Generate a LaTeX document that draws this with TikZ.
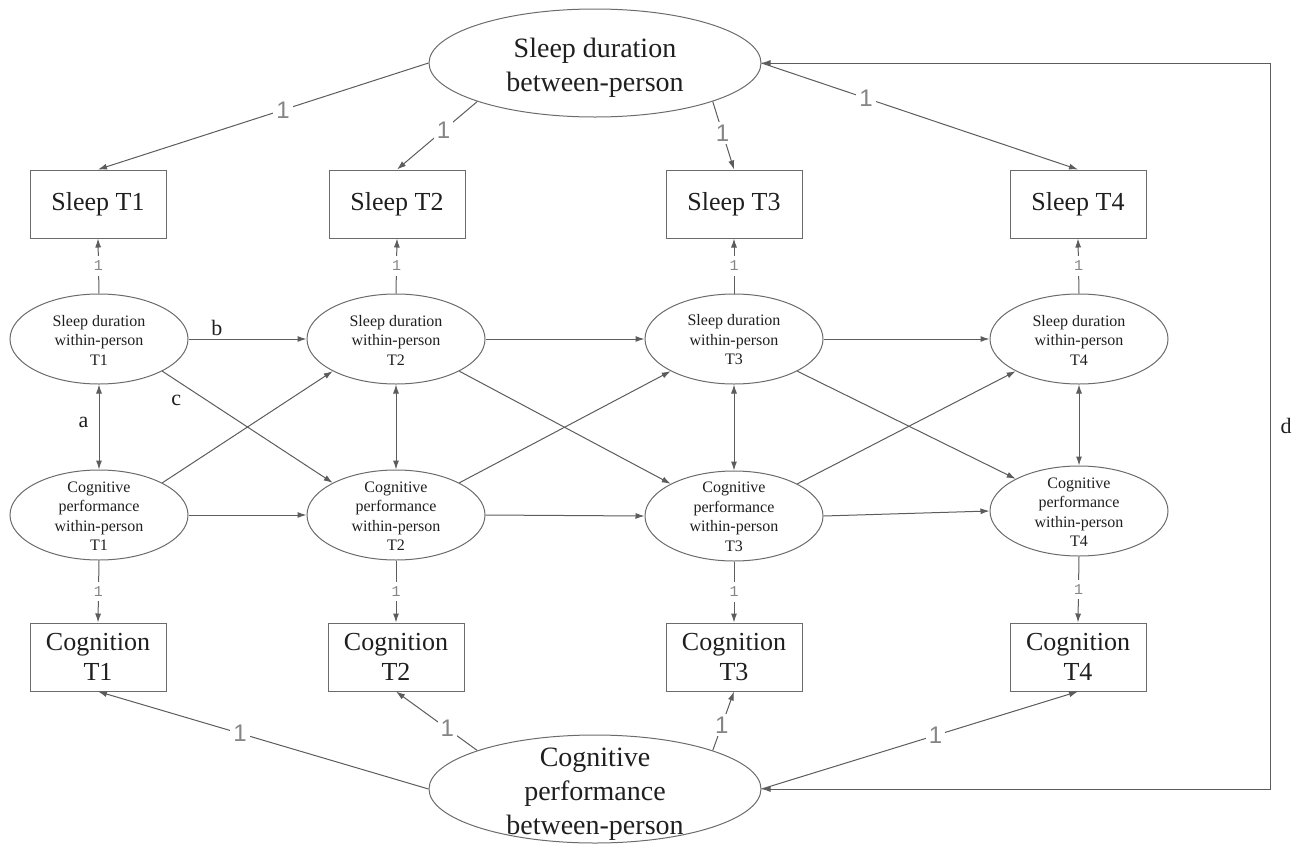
\documentclass[tikz,border=0pt]{standalone}
\usepackage{fontspec}
\setmainfont{Liberation Serif}
\newfontfamily\lsans{Liberation Sans}
\newfontfamily\lmono{Liberation Mono}
\usetikzlibrary{shapes.geometric,arrows.meta}
\definecolor{lncol}{gray}{0.36}
\definecolor{shpcol}{gray}{0.42}
\definecolor{numcol}{gray}{0.52}
\definecolor{txtcol}{gray}{0.12}
\begin{document}
\begin{tikzpicture}[x=1pt,y=-1pt,
  bigell/.style={ellipse,draw=shpcol,line width=1pt,minimum width=332pt,minimum height=108pt,inner sep=0pt},
  bigtxt/.style={align=center,inner sep=0pt,text=txtcol,font=\fontsize{28}{34}\selectfont},
  smell/.style={ellipse,draw=shpcol,line width=1pt,minimum width=178pt,minimum height=90pt,inner sep=0pt},
  smtxt/.style={align=center,inner sep=0pt,text=txtcol,font=\fontsize{16}{19.5}\selectfont},
  obsbox/.style={rectangle,draw=shpcol,line width=1pt,minimum width=136pt,minimum height=68pt,inner sep=0pt,align=center,text=txtcol,font=\fontsize{26}{30}\selectfont},
  conn/.style={draw=lncol,line width=1pt,-{Latex[length=9pt,width=6pt]}},
  dconn/.style={draw=lncol,line width=1pt,{Latex[length=9pt,width=6pt]}-{Latex[length=9pt,width=6pt]}},
  bignum/.style={fill=white,inner sep=3pt,text=numcol,font=\lsans\fontsize{24}{24}\selectfont},
  smnum/.style={fill=white,inner sep=5pt,text=numcol,font=\lmono\fontsize{15}{15}\selectfont},
  letter/.style={text=txtcol,inner sep=2pt,font=\fontsize{22}{22}\selectfont}
]
\useasboundingbox (0,0) rectangle (1302,844);

% between-person latents
\node[bigell] (topE) at (595,63) {};
\node[bigtxt] (topT) at (595,68) {Sleep duration\\between-person};
\node[bigell] (botE) at (595,789) {};
\node[bigtxt] (botT) at (595,794) {Cognitive\\performance\\between-person};

% indicators
\node[obsbox] (s1) at (98,204) {Sleep T1};
\node[obsbox] (s2) at (397,204) {Sleep T2};
\node[obsbox] (s3) at (734,204) {Sleep T3};
\node[obsbox] (s4) at (1078,204) {Sleep T4};
\node[obsbox] (c1) at (98,657) {Cognition\\T1};
\node[obsbox] (c2) at (396,657) {Cognition\\T2};
\node[obsbox] (c3) at (734,657) {Cognition\\T3};
\node[obsbox] (c4) at (1078,657) {Cognition\\T4};

% within-person latents
\foreach \i/\x in {1/99,2/396,3/734,4/1079}{
  \node[smell] (sw\i) at (\x,339) {};
  \node[smtxt] (swt\i) at (\x,340) {Sleep duration\\within-person\\T\i};
}
\foreach \i/\x/\y in {1/99/515,2/396/515,3/734/516,4/1079/511}{
  \node[smell] (cw\i) at (\x,\y) {};
  \node[smtxt] (cwt\i) at (\x,\y+1) {Cognitive\\performance\\within-person\\T\i};
}

% loadings within -> indicators, covariances
\foreach \i in {1,2,3,4}{
  \draw[conn] (sw\i.north) -- node[smnum]{1} (s\i.south);
  \draw[conn] (cw\i.south) -- node[smnum]{1} (c\i.north);
}
\draw[dconn] (sw1.south) -- node[letter,pos=0.45,left=8pt]{a} (cw1.north);
\foreach \i in {2,3,4}{
  \draw[dconn] (sw\i.south) -- (cw\i.north);
}

% autoregressive paths
\draw[conn] (sw1.east) -- node[letter,pos=0.24,above=1pt]{b} (sw2.west);
\draw[conn] (sw2.east) -- (sw3.west);
\draw[conn] (sw3.east) -- (sw4.west);
\draw[conn] (cw1.east) -- (cw2.west);
\draw[conn] (cw2.east) -- (cw3.west);
\draw[conn] (cw3.east) -- (cw4.west);

% cross-lagged paths
\draw[conn] (sw1.south east) -- node[letter,pos=0.1,below=10pt,xshift=-3pt]{c} (cw2.north west);
\draw[conn] (sw2.south east) -- (cw3.north west);
\draw[conn] (sw3.south east) -- (cw4.north west);
\draw[conn] (cw1.north east) -- (sw2.south west);
\draw[conn] (cw2.north east) -- (sw3.south west);
\draw[conn] (cw3.north east) -- (sw4.south west);

% between-person loadings
\draw[conn] (topE.west) -- node[bignum,pos=0.44]{1} (s1.north);
\draw[conn] (topE.south west) -- node[bignum,pos=0.42]{1} (s2.north);
\draw[conn] (topE.south east) -- node[bignum,pos=0.46]{1} (s3.north);
\draw[conn] (topE.east) -- node[bignum,pos=0.33]{1} (s4.north);
\draw[conn] (botE.west) -- node[bignum,pos=0.57]{1} (c1.south);
\draw[conn] (botE.north west) -- node[bignum,pos=0.37]{1} (c2.south);
\draw[conn] (botE.north east) -- node[bignum,pos=0.43]{1} (c3.south);
\draw[conn] (botE.east) -- node[bignum,pos=0.55]{1} (c4.south);

% between-person covariance d
\coordinate (dtop) at (1270,63);
\coordinate (dbot) at (1270,789);
\draw[dconn] (topE.east) -- (dtop) -- node[letter,pos=0.5,right=8pt]{d} (dbot) -- (botE.east);
\end{tikzpicture}
\end{document}
